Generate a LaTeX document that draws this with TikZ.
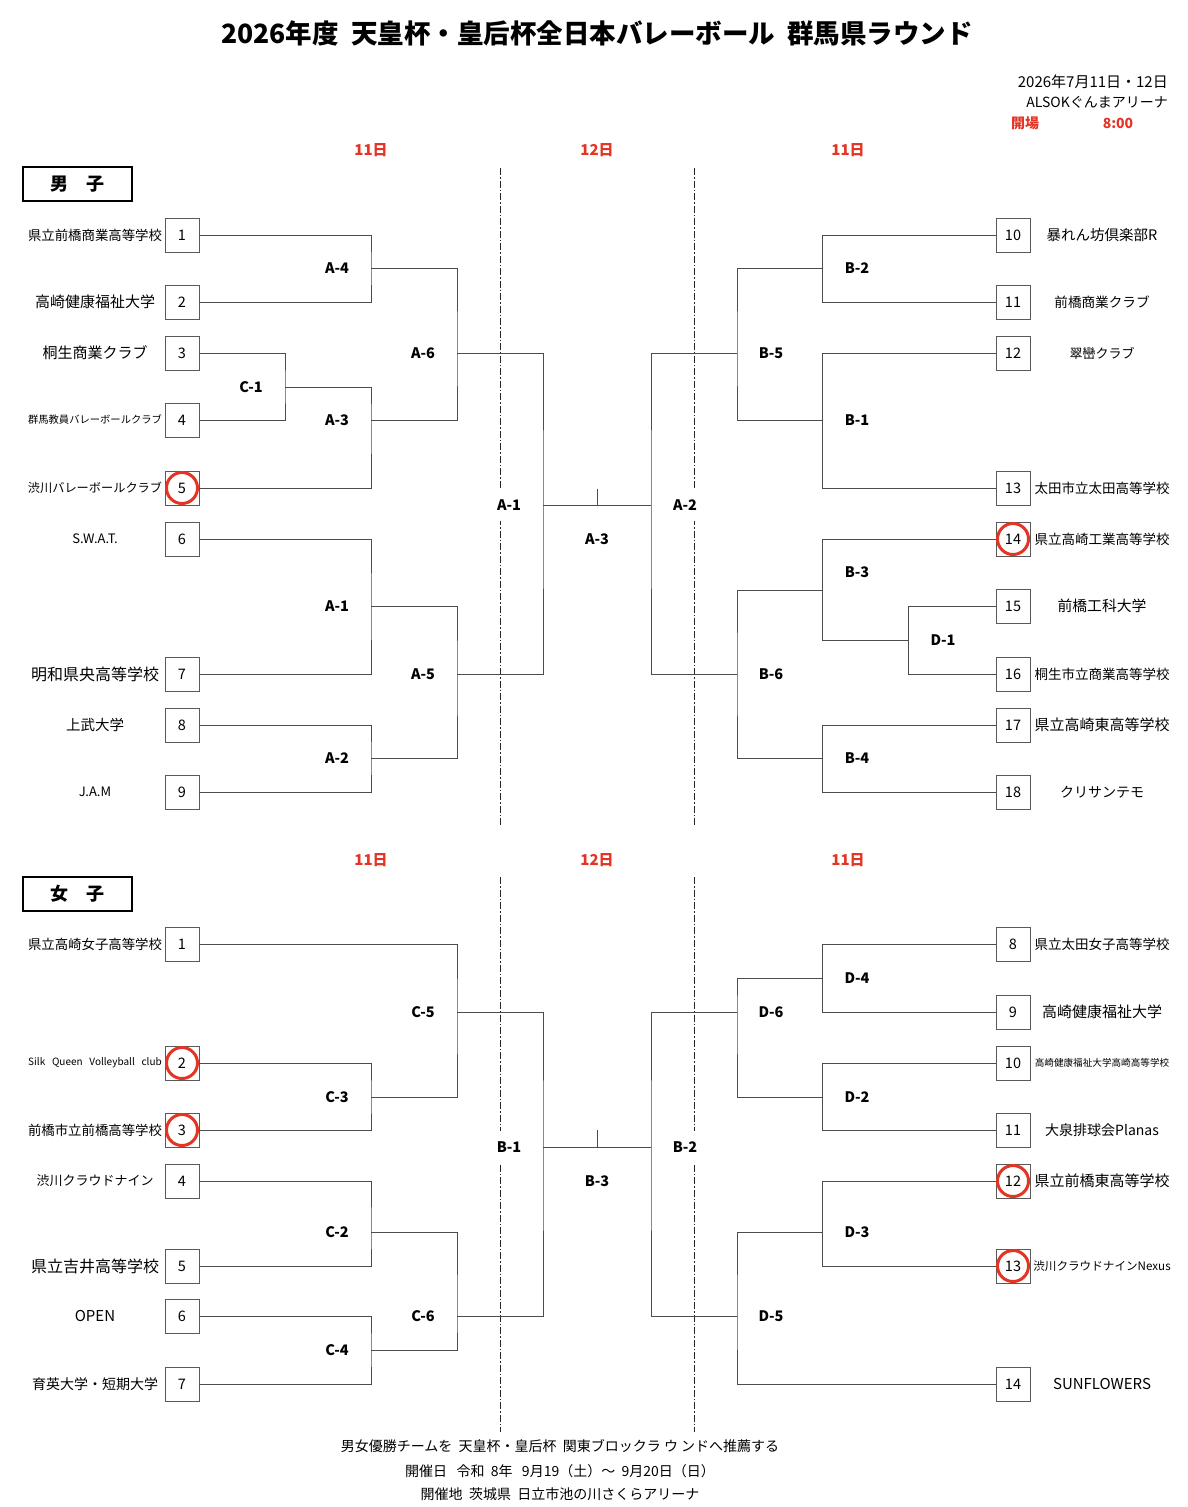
\documentclass[tikz,border=0pt]{standalone}
\usepackage{fontspec}
\setmainfont{Noto Sans CJK JP}
\usepackage{tikz}

\definecolor{dayred}{RGB}{228,52,36}

\begin{document}
\begin{tikzpicture}[x=1pt,y=-1pt,
  every node/.style={align=center,inner sep=0pt},
  num/.style={draw=black!65,minimum width=34pt,minimum height=34pt,font=\fontsize{14.5}{16}\selectfont},
  team/.style={font=\fontsize{#1}{#1}\selectfont},
  match/.style={font=\bfseries\fontsize{14.5}{16}\selectfont},
  final/.style={match,fill=white,inner xsep=4pt,inner ysep=11pt},
  day/.style={text=dayred,font=\bfseries\fontsize{15}{17}\selectfont},
  sex/.style={draw,line width=1.2pt,minimum width=109pt,minimum height=34pt,font=\bfseries\fontsize{18}{20}\selectfont},
  win/.style={draw=dayred,line width=3pt,circle,minimum size=31pt},
  bracket/.style={draw=black!70,line width=0.8pt},
  split/.style={black!85,line width=0.9pt,dash pattern=on 7pt off 2pt on 1.5pt off 2pt}]
\useasboundingbox (0,0) rectangle (1188,1507);

% header
\node[font=\bfseries\fontsize{26.5}{28}\selectfont] (title) at (597,33) {2026年度\ \ 天皇杯・皇后杯全日本バレーボール\ \ 群馬県ラウンド};
\node[team=15,anchor=east] (date) at (1168,82) {2026年7月11日・12日};
\node[team=14,anchor=east] (hall) at (1168,102) {ALSOKぐんまアリーナ};
\node[day,font=\bfseries\fontsize{14}{16}\selectfont] (open) at (1025,123) {開場};
\node[day,font=\bfseries\fontsize{14}{16}\selectfont] (time) at (1118,123) {8:00};

%%% men
\node[day] (md1) at (371,150) {11日};
\node[day] (md2) at (597,150) {12日};
\node[day] (md3) at (848,150) {11日};
\node[sex] (men) at (77.5,184) {男\quad 子};
\draw[split] (500,168) -- (500,826);
\draw[split] (694,168) -- (694,826);

\node[team=13.4] (mt1) at (95,235) {県立前橋商業高等学校}; \node[num] (m1) at (182,235) {1};
\node[team=15] (mt2) at (95,302) {高崎健康福祉大学}; \node[num] (m2) at (182,302) {2};
\node[team=15] (mt3) at (95,353) {桐生商業クラブ}; \node[num] (m3) at (182,353) {3};
\node[team=10.3] (mt4) at (95,420) {群馬教員バレーボールクラブ}; \node[num] (m4) at (182,420) {4};
\node[team=12.2] (mt5) at (95,488) {渋川バレーボールクラブ}; \node[num] (m5) at (182,488) {5};
\node[team=13] (mt6) at (95,539) {S.W.A.T.}; \node[num] (m6) at (182,539) {6};
\node[team=16] (mt7) at (95,674) {明和県央高等学校}; \node[num] (m7) at (182,674) {7};
\node[team=14.5] (mt8) at (95,725) {上武大学}; \node[num] (m8) at (182,725) {8};
\node[team=13] (mt9) at (95,792) {J.A.M}; \node[num] (m9) at (182,792) {9};

\node[team=14.5] (mt10) at (1102,235) {暴れん坊倶楽部R}; \node[num] (m10) at (1013,235) {10};
\node[team=13.6] (mt11) at (1102,302) {前橋商業クラブ}; \node[num] (m11) at (1013,302) {11};
\node[team=13] (mt12) at (1102,353) {翠巒クラブ}; \node[num] (m12) at (1013,353) {12};
\node[team=13.5] (mt13) at (1102,488) {太田市立太田高等学校}; \node[num] (m13) at (1013,488) {13};
\node[team=13.5] (mt14) at (1102,539) {県立高崎工業高等学校}; \node[num] (m14) at (1013,539) {14};
\node[team=14.8] (mt15) at (1102,606) {前橋工科大学}; \node[num] (m15) at (1013,606) {15};
\node[team=13.5] (mt16) at (1102,674) {桐生市立商業高等学校}; \node[num] (m16) at (1013,674) {16};
\node[team=15] (mt17) at (1102,725) {県立高崎東高等学校}; \node[num] (m17) at (1013,725) {17};
\node[team=14] (mt18) at (1102,792) {クリサンテモ}; \node[num] (m18) at (1013,792) {18};

\coordinate (mA4) at (371,268); \coordinate (mC1) at (285,387);
\coordinate (mA3) at (371,420); \coordinate (mA6) at (457,353);
\coordinate (mA1) at (371,606); \coordinate (mA2) at (371,758);
\coordinate (mA5) at (457,674); \coordinate (mF1) at (543,505);
\coordinate (mF2) at (651,505); \coordinate (mT) at (597,489); \coordinate (mM) at (597,505);
\coordinate (mB2) at (822,268); \coordinate (mB1) at (822,420);
\coordinate (mB5) at (737,353); \coordinate (mD1) at (908,640);
\coordinate (mB3) at (822,590); \coordinate (mB4) at (822,758);
\coordinate (mB6) at (737,674);

\draw[bracket] (m1.east) -| (mA4) |- (m2.east);
\draw[bracket] (m3.east) -| (mC1) |- (m4.east);
\draw[bracket] (mC1) -| (mA3) |- (m5.east);
\draw[bracket] (mA4) -| (mA6) |- (mA3);
\draw[bracket] (m6.east) -| (mA1) |- (m7.east);
\draw[bracket] (m8.east) -| (mA2) |- (m9.east);
\draw[bracket] (mA1) -| (mA5) |- (mA2);
\draw[bracket] (mA6) -| (mF1) |- (mA5);
\draw[bracket] (mF1) -- (mF2);
\draw[bracket] (mT) -- (mM);
\draw[bracket] (m10.west) -| (mB2) |- (m11.west);
\draw[bracket] (m12.west) -| (mB1) |- (m13.west);
\draw[bracket] (mB2) -| (mB5) |- (mB1);
\draw[bracket] (m15.west) -| (mD1) |- (m16.west);
\draw[bracket] (m14.west) -| (mB3) |- (mD1);
\draw[bracket] (m17.west) -| (mB4) |- (m18.west);
\draw[bracket] (mB3) -| (mB6) |- (mB4);
\draw[bracket] (mB5) -| (mF2) |- (mB6);

\node[match] (lmA4) at (337,268) {A-4};
\node[match] (lmC1) at (251,387) {C-1};
\node[match] (lmA3) at (337,420) {A-3};
\node[match] (lmA6) at (423,353) {A-6};
\node[match] (lmA1) at (337,606) {A-1};
\node[match] (lmA2) at (337,758) {A-2};
\node[match] (lmA5) at (423,674) {A-5};
\node[final] (lmF1) at (509,505) {A-1};
\node[final] (lmF2) at (685,505) {A-2};
\node[match] (lmF3) at (597,539) {A-3};
\node[match] (lmB2) at (857,268) {B-2};
\node[match] (lmB5) at (771,353) {B-5};
\node[match] (lmB1) at (857,420) {B-1};
\node[match] (lmB3) at (857,572) {B-3};
\node[match] (lmD1) at (943,640) {D-1};
\node[match] (lmB6) at (771,674) {B-6};
\node[match] (lmB4) at (857,758) {B-4};

\node[win] (mw5) at (m5) {};
\node[win] (mw14) at (m14) {};

%%% women
\node[day] (fd1) at (371,860) {11日};
\node[day] (fd2) at (597,860) {12日};
\node[day] (fd3) at (848,860) {11日};
\node[sex] (women) at (77.5,894) {女\quad 子};
\draw[split] (500,877) -- (500,1432);
\draw[split] (694,877) -- (694,1432);

\node[team=13.4] (ft1) at (95,944) {県立高崎女子高等学校}; \node[num] (f1) at (182,944) {1};
\node[team=10] (ft2) at (95,1063) {Silk\ \ \ Queen\ \ \ Volleyball\ \ \ club}; \node[num] (f2) at (182,1063) {2};
\node[team=13.4] (ft3) at (95,1130) {前橋市立前橋高等学校}; \node[num] (f3) at (182,1130) {3};
\node[team=13] (ft4) at (95,1181) {渋川クラウドナイン}; \node[num] (f4) at (182,1181) {4};
\node[team=16] (ft5) at (95,1266) {県立吉井高等学校}; \node[num] (f5) at (182,1266) {5};
\node[team=15] (ft6) at (95,1316) {OPEN}; \node[num] (f6) at (182,1316) {6};
\node[team=14] (ft7) at (95,1384) {育英大学・短期大学}; \node[num] (f7) at (182,1384) {7};

\node[team=13.5] (ft8) at (1102,944) {県立太田女子高等学校}; \node[num] (f8) at (1013,944) {8};
\node[team=15] (ft9) at (1102,1012) {高崎健康福祉大学}; \node[num] (f9) at (1013,1012) {9};
\node[team=9.6] (ft10) at (1102,1063) {高崎健康福祉大学高崎高等学校}; \node[num] (f10) at (1013,1063) {10};
\node[team=14] (ft11) at (1102,1130) {大泉排球会Planas}; \node[num] (f11) at (1013,1130) {11};
\node[team=15] (ft12) at (1102,1181) {県立前橋東高等学校}; \node[num] (f12) at (1013,1181) {12};
\node[team=11.6] (ft13) at (1102,1266) {渋川クラウドナインNexus}; \node[num] (f13) at (1013,1266) {13};
\node[team=15] (ft14) at (1102,1384) {SUNFLOWERS}; \node[num] (f14) at (1013,1384) {14};

\coordinate (wC3) at (371,1097); \coordinate (wC5) at (457,1012);
\coordinate (wC2) at (371,1232); \coordinate (wC4) at (371,1350);
\coordinate (wC6) at (457,1316); \coordinate (wF1) at (543,1147);
\coordinate (wF2) at (651,1147); \coordinate (wT) at (597,1130); \coordinate (wM) at (597,1147);
\coordinate (wD4) at (822,978); \coordinate (wD2) at (822,1097);
\coordinate (wD6) at (737,1012); \coordinate (wD3) at (822,1232);
\coordinate (wD5) at (737,1316);

\draw[bracket] (f2.east) -| (wC3) |- (f3.east);
\draw[bracket] (f1.east) -| (wC5) |- (wC3);
\draw[bracket] (f4.east) -| (wC2) |- (f5.east);
\draw[bracket] (f6.east) -| (wC4) |- (f7.east);
\draw[bracket] (wC2) -| (wC6) |- (wC4);
\draw[bracket] (wC5) -| (wF1) |- (wC6);
\draw[bracket] (wF1) -- (wF2);
\draw[bracket] (wT) -- (wM);
\draw[bracket] (f8.west) -| (wD4) |- (f9.west);
\draw[bracket] (f10.west) -| (wD2) |- (f11.west);
\draw[bracket] (wD4) -| (wD6) |- (wD2);
\draw[bracket] (f12.west) -| (wD3) |- (f13.west);
\draw[bracket] (wD3) -| (wD5) |- (f14.west);
\draw[bracket] (wD6) -| (wF2) |- (wD5);

\node[match] (lwC5) at (423,1012) {C-5};
\node[match] (lwC3) at (337,1097) {C-3};
\node[match] (lwC2) at (337,1232) {C-2};
\node[match] (lwC4) at (337,1350) {C-4};
\node[match] (lwC6) at (423,1316) {C-6};
\node[final] (lwF1) at (509,1147) {B-1};
\node[final] (lwF2) at (685,1147) {B-2};
\node[match] (lwF3) at (597,1181) {B-3};
\node[match] (lwD4) at (857,978) {D-4};
\node[match] (lwD6) at (771,1012) {D-6};
\node[match] (lwD2) at (857,1097) {D-2};
\node[match] (lwD3) at (857,1232) {D-3};
\node[match] (lwD5) at (771,1316) {D-5};

\node[win] (fw2) at (f2) {};
\node[win] (fw3) at (f3) {};
\node[win] (fw12) at (f12) {};
\node[win] (fw13) at (f13) {};

% footer
\node[team=14] (note1) at (560,1446) {男女優勝チームを\ \ 天皇杯・皇后杯\ \ 関東ブロックラ ウ ンドへ推薦する};
\node[team=14] (note2) at (560,1471) {開催日\ \ \ 令和\ \ 8年\ \ \ 9月19（土）～\ \ 9月20日（日）};
\node[team=14] (note3) at (560,1494) {開催地\ \ 茨城県\ \ 日立市池の川さくらアリーナ};
\end{tikzpicture}
\end{document}
